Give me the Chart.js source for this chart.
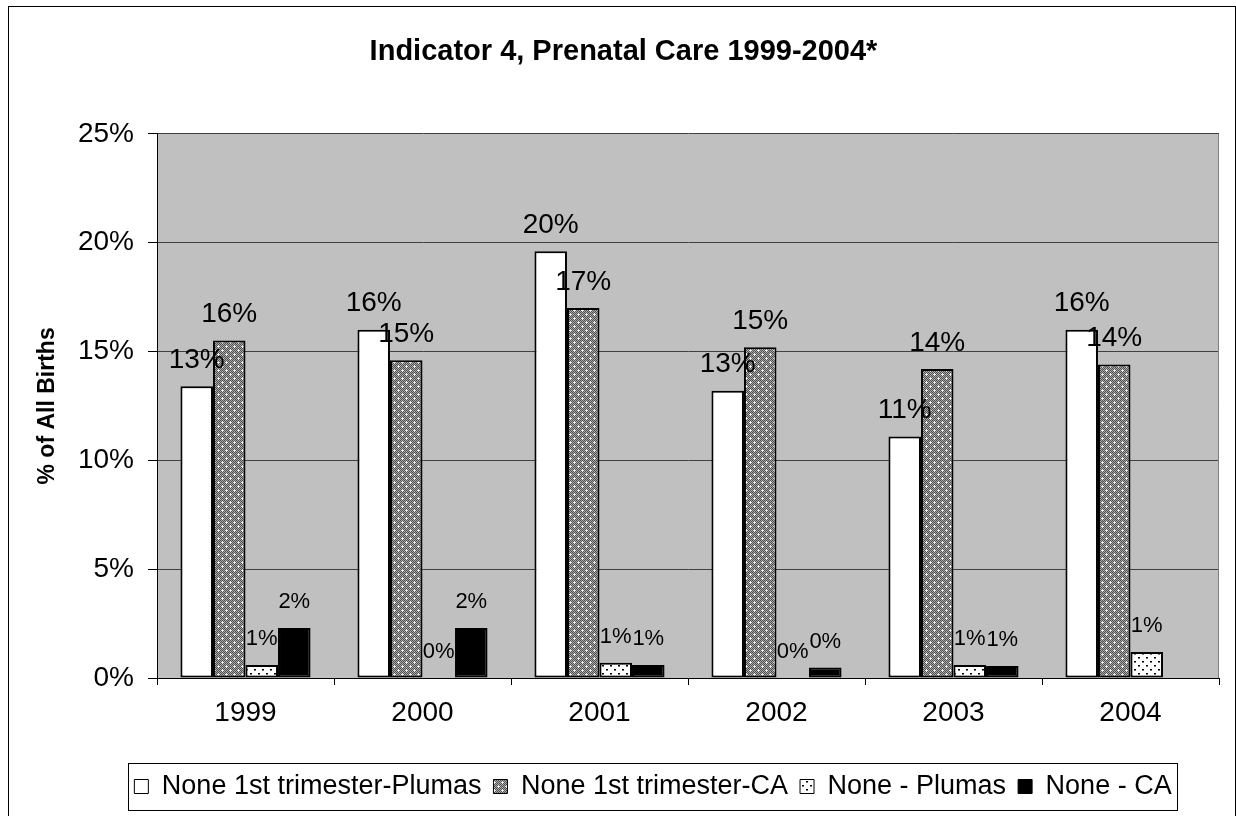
<!DOCTYPE html>
<html>
<head>
<meta charset="utf-8">
<script src="https://cdn.jsdelivr.net/npm/chart.js@4.4.1/dist/chart.umd.min.js"></script>
<style>
  html, body { margin: 0; padding: 0; background: #fff; }
  #wrap { position: relative; width: 1236px; height: 816px; }
</style>
</head>
<body>
<div id="wrap"><canvas id="chart" width="1236" height="816"></canvas></div>
<script>
// values, in percent
const years = ["1999", "2000", "2001", "2002", "2003", "2004"];
const firstTriPlumas = [13.4, 16.0, 19.6, 13.2, 11.1, 16.0];
const firstTriCA = [15.5, 14.6, 17.0, 15.2, 14.2, 14.4];
const nonePlumas = [0.6, 0, 0.7, 0, 0.6, 1.2];
const noneCA = [2.3, 2.3, 0.6, 0.48, 0.55, null];
const yTicks = [0, 5, 10, 15, 20, 25];

const FONT = '"Liberation Sans", Arial, sans-serif';
Chart.defaults.font.family = FONT;
Chart.defaults.color = '#000';

function makePattern(size, draw) {
    const c = document.createElement('canvas');
    c.width = size;
    c.height = size;
    draw(c.getContext('2d'));
    return c.getContext('2d').createPattern(c, 'repeat');
}

// dark dithered grey with little white crosses
const caFill = makePattern(8, g => {
    for (let y = 0; y < 8; y++) {
        for (let x = 0; x < 8; x++) {
            g.fillStyle = (x + y) % 2 ? '#a8a8a8' : '#505050';
            g.fillRect(x, y, 1, 1);
        }
    }
    [[2, 2], [6, 6]].forEach(([x, y]) => {
        g.fillStyle = '#e8e8e8';
        g.fillRect(x - 1, y, 3, 1);
        g.fillRect(x, y - 1, 1, 3);
        g.fillStyle = '#fff';
        g.fillRect(x, y, 1, 1);
    });
});

// white with sparse black dots
const dotFill = makePattern(8, g => {
    g.fillStyle = '#fff';
    g.fillRect(0, 0, 8, 8);
    g.fillStyle = '#000';
    g.fillRect(2, 1, 2, 1);
    g.fillRect(6, 5, 2, 1);
    g.fillStyle = '#777';
    g.fillRect(2, 2, 2, 1);
    g.fillRect(6, 6, 2, 1);
});

const frame = {
    id: 'frame',
    afterLayout(chart) {
        // legend sits a bit right of centre in the original, widen its box so it stays on one row
        const lg = chart.legend;
        lg.left = 100;
        lg.right = 1206;
        lg.width = lg.right - lg.left;
    },
    beforeDraw(chart) {
        const {ctx, chartArea: a} = chart;
        ctx.save();
        ctx.fillStyle = '#fff';
        ctx.fillRect(0, 0, chart.width, chart.height);
        ctx.fillStyle = '#c0c0c0';
        ctx.fillRect(a.left, a.top, a.right - a.left, a.bottom - a.top);
        ctx.restore();
    },
    afterDraw(chart) {
        const {ctx, chartArea: a} = chart;
        ctx.save();
        ctx.lineWidth = 1;
        ctx.strokeStyle = '#808080';
        ctx.beginPath();
        ctx.moveTo(a.right - 0.5, a.top);
        ctx.lineTo(a.right - 0.5, a.bottom);
        ctx.stroke();
        ctx.strokeStyle = '#000';
        ctx.strokeRect(128.5, 763.5, 1049, 47);
        ctx.strokeRect(8.5, 6.5, 1227, 815);
        ctx.restore();
    }
};

const barLabels = {
    id: 'barLabels',
    afterDatasetsDraw(chart) {
        const ctx = chart.ctx;
        ctx.save();
        ctx.fillStyle = '#000';
        ctx.textAlign = 'center';
        ctx.textBaseline = 'middle';
        chart.data.datasets.forEach((ds, i) => {
            const meta = chart.getDatasetMeta(i);
            ctx.font = (i < 2 ? 28 : 22) + 'px ' + FONT;
            meta.data.forEach((bar, j) => {
                const v = ds.data[j];
                if (v === null || v === undefined) return;
                ctx.fillText(Math.round(v) + '%', bar.x, bar.y - 26);
            });
        });
        ctx.restore();
    }
};

new Chart(document.getElementById('chart'), {
    type: 'bar',
    data: {
        labels: years,
        datasets: [
            {label: 'None 1st trimester-Plumas', data: firstTriPlumas, backgroundColor: '#fff'},
            {label: 'None 1st trimester-CA', data: firstTriCA, backgroundColor: caFill},
            {label: 'None - Plumas', data: nonePlumas, backgroundColor: dotFill},
            {label: 'None - CA', data: noneCA, backgroundColor: '#000'}
        ]
    },
    options: {
        responsive: false,
        animation: false,
        layout: {padding: {left: 28, right: 17, top: 0, bottom: 6}},
        datasets: {
            bar: {
                categoryPercentage: 0.735,
                barPercentage: 1,
                borderColor: '#000',
                borderWidth: 2,
                borderSkipped: false
            }
        },
        scales: {
            x: {
                grid: {drawOnChartArea: false, drawTicks: true, tickLength: 7, tickColor: '#000'},
                border: {color: '#000'},
                ticks: {font: {size: 28}, padding: 11, maxRotation: 0},
                afterFit: s => { s.height = 83; }
            },
            y: {
                min: 0,
                max: 25,
                afterBuildTicks: s => { s.ticks = yTicks.map(v => ({value: v})); },
                ticks: {font: {size: 28}, padding: 14, callback: v => v + '%'},
                grid: {color: '#404040', tickLength: 9, tickColor: '#000'},
                border: {color: '#000'},
                title: {
                    display: true,
                    text: '% of All Births',
                    font: {size: 23, weight: 'bold'},
                    padding: {top: 6, bottom: 0}
                },
                afterFit: s => { s.width = 129; }
            }
        },
        plugins: {
            title: {
                display: true,
                text: 'Indicator 4, Prenatal Care 1999-2004*',
                font: {size: 29, weight: 'bold'},
                padding: {top: 35, bottom: 64}
            },
            legend: {
                position: 'bottom',
                labels: {
                    font: {size: 27},
                    boxWidth: 14,
                    boxHeight: 14,
                    padding: 12,
                    generateLabels: chart => Chart.defaults.plugins.legend.labels.generateLabels(chart)
                        .map(l => Object.assign(l, {lineWidth: 1}))
                }
            },
            tooltip: {enabled: false}
        }
    },
    plugins: [frame, barLabels]
});
</script>
</body>
</html>
